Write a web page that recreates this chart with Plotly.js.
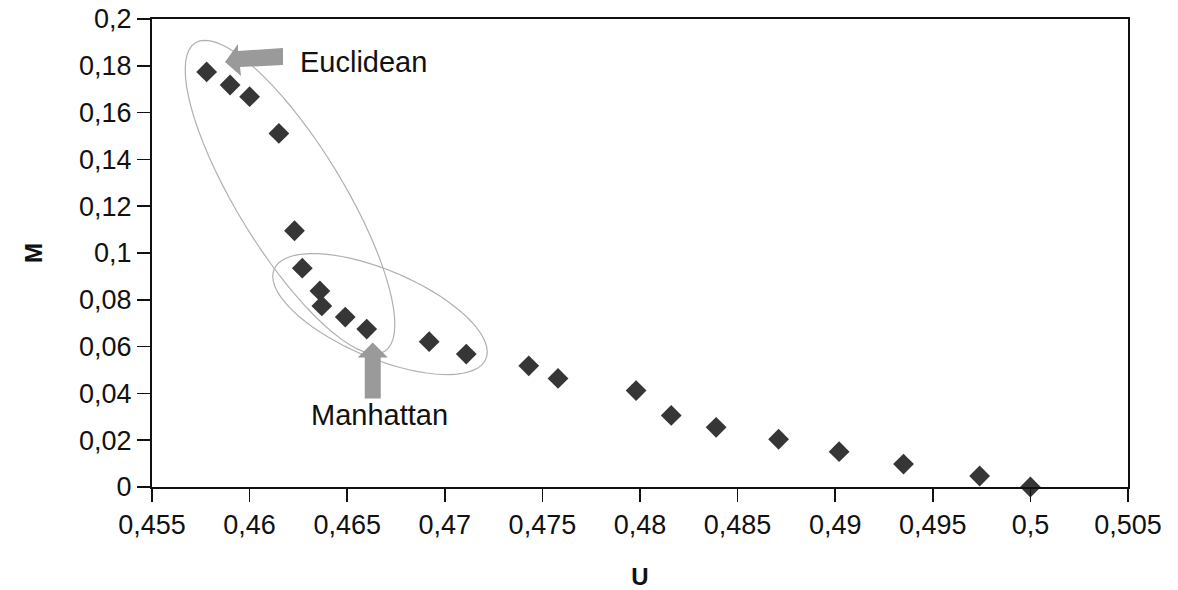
<!DOCTYPE html>
<html>
<head>
<meta charset="utf-8">
<script src="https://cdn.plot.ly/plotly-3.0.1.min.js"></script>
<style>html,body{margin:0;padding:0;background:#fff;}#chart{width:1178px;height:590px;}</style>
</head>
<body>
<div id="chart"></div>
<script>
// Data
const U = [0.4578, 0.4590, 0.4600, 0.4615, 0.4623, 0.4627, 0.4636, 0.4637, 0.4649, 0.4660, 0.4692, 0.4711,
           0.4743, 0.4758, 0.4798, 0.4816, 0.4839, 0.4871, 0.4902, 0.4935, 0.4974, 0.5000];
const M = [0.1774, 0.1718, 0.1668, 0.1511, 0.1095, 0.0935, 0.0838, 0.0774, 0.0726, 0.0675, 0.0621, 0.0568,
           0.0518, 0.0464, 0.0412, 0.0306, 0.0255, 0.0204, 0.0151, 0.0098, 0.0047, 0.0000];
const xTickVals = [0.455, 0.46, 0.465, 0.47, 0.475, 0.48, 0.485, 0.49, 0.495, 0.5, 0.505];
const xTickText = ['0,455', '0,46', '0,465', '0,47', '0,475', '0,48', '0,485', '0,49', '0,495', '0,5', '0,505'];
const yTickVals = [0, 0.02, 0.04, 0.06, 0.08, 0.1, 0.12, 0.14, 0.16, 0.18, 0.2];
const yTickText = ['0', '0,02', '0,04', '0,06', '0,08', '0,1', '0,12', '0,14', '0,16', '0,18', '0,2'];

// Layout geometry
const W = 1178, H = 590;
const margin = {l: 152, r: 50, t: 19, b: 103};
const xRange = [0.455, 0.505], yRange = [0, 0.2];
const plotW = W - margin.l - margin.r, plotH = H - margin.t - margin.b;
const kx = (xRange[1] - xRange[0]) / plotW;   // data per pixel
const ky = (yRange[1] - yRange[0]) / plotH;

// Annotation ellipses (centre in data units, semi-axes in px, rotation in degrees, screen-clockwise)
function ellipsePath(cx, cy, a, b, deg) {
  const t = deg * Math.PI / 180;
  let d = '';
  for (let i = 0; i <= 72; i++) {
    const s = i / 72 * 2 * Math.PI;
    const dx = a * Math.cos(s) * Math.cos(t) - b * Math.sin(s) * Math.sin(t);
    const dy = a * Math.cos(s) * Math.sin(t) + b * Math.sin(s) * Math.cos(t);
    const x = cx + dx * kx, y = cy - dy * ky;
    d += (i === 0 ? 'M' : 'L') + x.toFixed(6) + ',' + y.toFixed(6);
  }
  return d + 'Z';
}
function polyPath(cx, cy, pts) { // pts: px offsets from anchor (screen coords)
  return pts.map((p, i) => (i === 0 ? 'M' : 'L') + (cx + p[0] * kx).toFixed(6) + ',' + (cy - p[1] * ky).toFixed(6)).join('') + 'Z';
}

const euclidTip = [0.45874, 0.1816];
const manhTip = [0.46631, 0.0617];

const shapes = [
  {type: 'path', xref: 'x', yref: 'y', path: ellipsePath(0.46207, 0.1239, 181, 53, 58.5), line: {color: '#b0b0b0', width: 1.2}},
  {type: 'path', xref: 'x', yref: 'y', path: ellipsePath(0.46668, 0.0739, 115, 44, 23), line: {color: '#b0b0b0', width: 1.2}},
  {type: 'path', xref: 'x', yref: 'y', fillcolor: '#9a9a9a', line: {width: 0},
   path: polyPath(euclidTip[0], euclidTip[1], [[0,0],[13,-18],[13,-11],[58,-14],[58,3],[15,5],[16,14]])},
  {type: 'path', xref: 'x', yref: 'y', fillcolor: '#9a9a9a', line: {width: 0},
   path: polyPath(manhTip[0], manhTip[1], [[0,0],[15,15],[8,15],[8,56],[-8,56],[-8,15],[-15,15]])}
];

const fontFam = 'Liberation Sans, Arial, sans-serif';
const annotations = [
  {x: 0.46248, y: 0.1816, xref: 'x', yref: 'y', text: 'Euclidean', showarrow: false, xanchor: 'left', yanchor: 'middle',
   font: {family: fontFam, size: 29, color: '#111'}},
  {x: 0.46668, y: 0.0308, xref: 'x', yref: 'y', text: 'Manhattan', showarrow: false, xanchor: 'center', yanchor: 'middle',
   font: {family: fontFam, size: 29, color: '#111'}}
];

const trace = {
  x: U, y: M, type: 'scatter', mode: 'markers', cliponaxis: false,
  marker: {symbol: 'diamond', size: 16, color: '#363636', line: {width: 0}},
  hoverinfo: 'x+y'
};

const layout = {
  width: W, height: H, margin: margin,
  paper_bgcolor: '#fff', plot_bgcolor: '#fff',
  showlegend: false,
  font: {family: fontFam, size: 27, color: '#111'},
  xaxis: {
    range: xRange, tickvals: xTickVals, ticktext: xTickText,
    showline: true, linecolor: '#111', linewidth: 2, mirror: true,
    ticks: 'outside', ticklen: 13, tickwidth: 1.5, tickcolor: '#111',
    showgrid: false, zeroline: false, automargin: false,
    tickfont: {family: fontFam, size: 27, color: '#111'},
    title: {text: '<b>U</b>', font: {family: fontFam, size: 24, color: '#111'}, standoff: 30}
  },
  yaxis: {
    range: yRange, tickvals: yTickVals, ticktext: yTickText,
    showline: true, linecolor: '#111', linewidth: 2, mirror: true,
    ticks: 'outside', ticklen: 13, tickwidth: 1.5, tickcolor: '#111',
    showgrid: false, zeroline: false, automargin: false,
    tickfont: {family: fontFam, size: 27, color: '#111'},
    title: {text: '<b>M</b>', font: {family: fontFam, size: 24, color: '#111'}, standoff: 30}
  },
  shapes: shapes,
  annotations: annotations
};

Plotly.newPlot('chart', [trace], layout, {displayModeBar: false, staticPlot: true});
</script>
</body>
</html>
